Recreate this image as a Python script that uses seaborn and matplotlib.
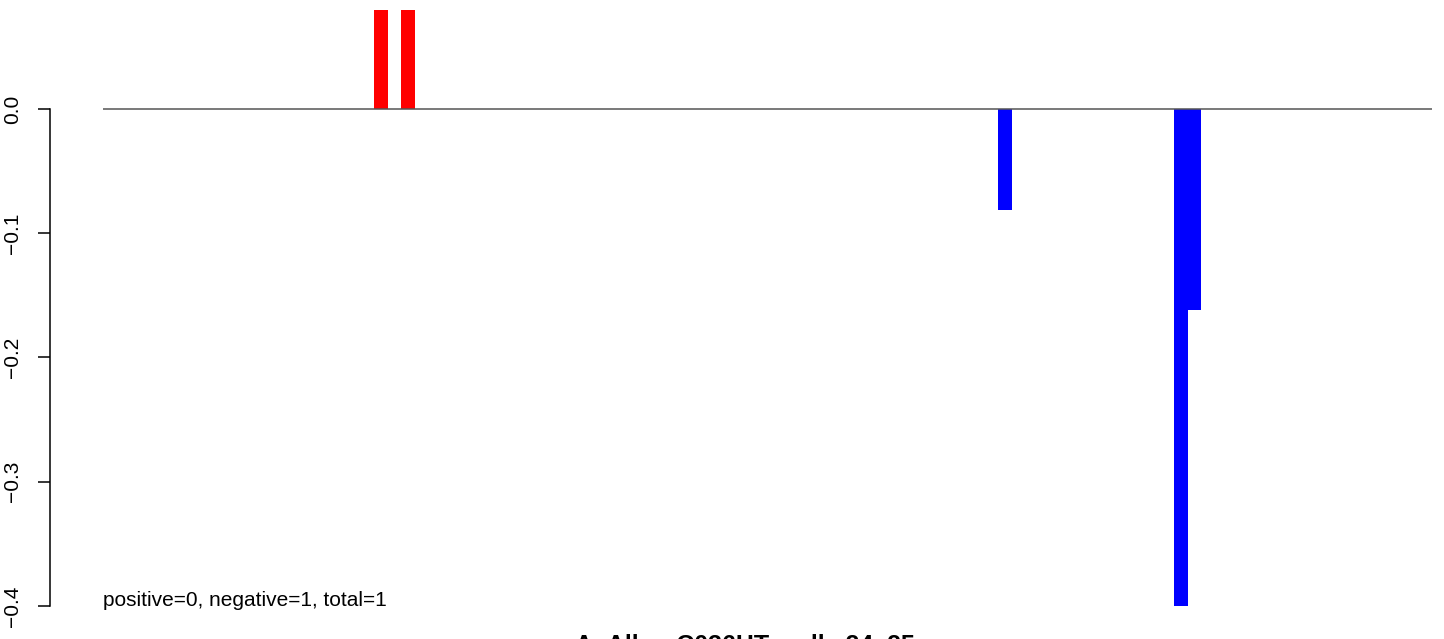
import numpy as np
import pandas as pd
import matplotlib
matplotlib.use("Agg")
import matplotlib.pyplot as plt
import seaborn as sns

# bins along the sequence, only a few have a score
n_bins = 98
bar_pos = [20, 22, 66, 79, 80]
bar_val = [0.12, 0.12, -0.081, -0.4, -0.162]
y_ticks = [-0.4, -0.3, -0.2, -0.1, 0.0]
title = "AcAlbo_C036HT_cells 24_25 rep"
note = "positive=0, negative=1, total=1"

values = np.zeros(n_bins)
values[bar_pos] = bar_val
df = pd.DataFrame({"bin": np.arange(n_bins), "value": values})
df["sign"] = np.where(df["value"] > 0, "pos", "neg")

sns.set_style("white")
plt.rcParams["font.family"] = ["Liberation Sans", "DejaVu Sans"]
plt.rcParams["text.color"] = "black"
plt.rcParams["ytick.color"] = "black"
plt.rcParams["ytick.labelcolor"] = "black"

fig = plt.figure(figsize=(14.44, 6.39), dpi=100)
W, H = 1444, 639
ax = fig.add_axes([103 / W, (H - 620) / H, (1432 - 103) / W, (620 - 10) / H])

sns.barplot(data=df, x="bin", y="value", hue="sign",
            palette={"pos": "red", "neg": "blue"}, dodge=False,
            width=1, saturation=1, errorbar=None, linewidth=0,
            legend=False, ax=ax)

ax.axhline(0, color="#555555", lw=1.1, zorder=3)
ax.set_xlim(-0.5, n_bins - 0.5)
ax.set_ylim(-0.4113, 0.0797)

for s in ["top", "right", "bottom"]:
    ax.spines[s].set_visible(False)
ax.spines["left"].set_position(("outward", 38))
ax.spines["left"].set_bounds(-0.4, 0.0)
ax.spines["left"].set_linewidth(1.1)
ax.spines["left"].set_color("black")
ax.set_yticks(y_ticks)
ax.tick_params(axis="y", left=True, length=8.5, width=1.1, pad=12,
               labelsize=15, labelrotation=90, colors="black")
for lab in ax.get_yticklabels():
    lab.set_va("center")
ax.set_xticks([])
ax.set_xlabel("")
ax.set_ylabel("")

ax.text(0.0, -0.4, note, transform=ax.get_yaxis_transform(),
        ha="left", va="baseline", fontsize=15, color="black")
fig.text(0.5 * (103 + 1432) / W, (H - 653) / H, title, ha="center",
         va="baseline", fontsize=18, fontweight="bold", color="black")

fig.savefig("out.png", dpi=100)
